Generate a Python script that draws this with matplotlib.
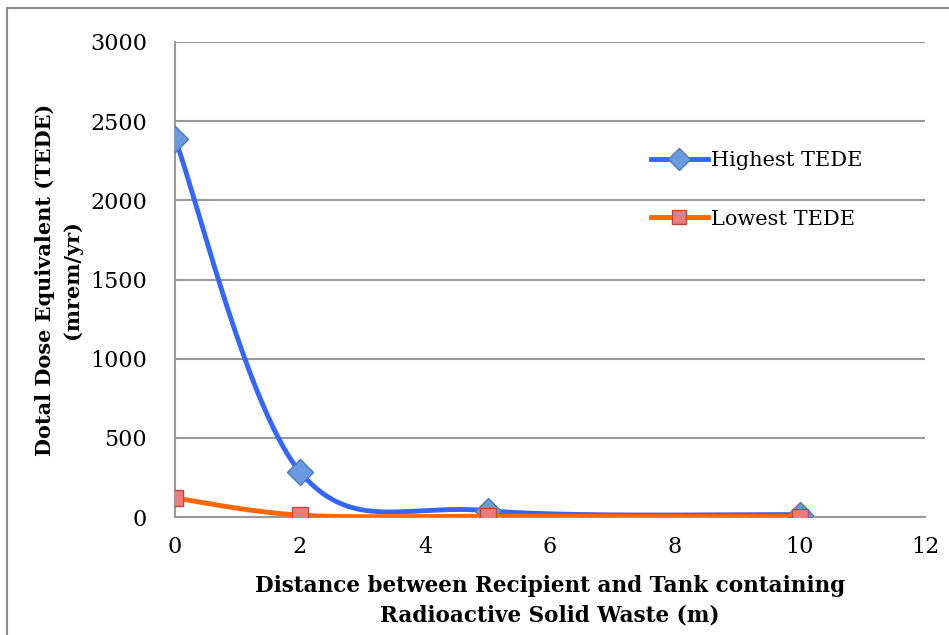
import numpy as np
import matplotlib
matplotlib.use("Agg")
import matplotlib.pyplot as plt
from matplotlib.patches import Rectangle

# data
distance = [0, 2, 5, 10]
highest_tede = [2390, 285, 40, 15]
lowest_tede = [120, 12, 5, 3]

x_ticks = [0, 2, 4, 6, 8, 10, 12]
y_ticks = [0, 500, 1000, 1500, 2000, 2500, 3000]

plt.rcParams["font.family"] = "DejaVu Serif"


def smooth(xs, ys, n=60):
    # Excel style smoothed line (Catmull-Rom as cubic bezier)
    pts = np.column_stack([xs, ys]).astype(float)
    out = []
    for i in range(len(pts) - 1):
        p0 = pts[i - 1] if i > 0 else pts[i]
        p1 = pts[i]
        p2 = pts[i + 1]
        p3 = pts[i + 2] if i + 2 < len(pts) else pts[i + 1]
        c1 = p1 + (p2 - p0) / 6
        c2 = p2 - (p3 - p1) / 6
        t = np.linspace(0, 1, n)[:, None]
        seg = ((1 - t) ** 3) * p1 + 3 * ((1 - t) ** 2) * t * c1 + 3 * (1 - t) * t ** 2 * c2 + t ** 3 * p2
        out.append(seg)
    seg = np.vstack(out)
    return seg[:, 0], seg[:, 1]


fig = plt.figure(figsize=(9.49, 6.35), dpi=100)
ax = fig.add_axes([175 / 949, 1 - 517 / 635, 750 / 949, 475 / 635])

# outer frame
fig.patches.append(Rectangle((7 / 949, -0.1), 1.2, 1 - 8 / 635 + 0.1, transform=fig.transFigure,
                             fill=False, edgecolor="#8c8c8c", linewidth=1.5))

hx, hy = smooth(distance, highest_tede)
lx, ly = smooth(distance, lowest_tede)

blue_marker = dict(marker="D", markerfacecolor="#6a9be0", markeredgecolor="#4a78b8", markeredgewidth=1)
red_marker = dict(marker="s", markerfacecolor="#ec7b7b", markeredgecolor="#c04545", markeredgewidth=1)

ax.plot(hx, hy, color="#3366ff", linewidth=3.5, solid_capstyle="round", zorder=3)
ax.plot(distance, highest_tede, linestyle="none", markersize=13, zorder=4, **blue_marker)
ax.plot(lx, ly, color="#ff6600", linewidth=3.5, solid_capstyle="round", zorder=5)
ax.plot(distance, lowest_tede, linestyle="none", markersize=12, zorder=6, **red_marker)

# legend proxies
h1, = ax.plot([], [], color="#3366ff", linewidth=3.5, markersize=11, **blue_marker)
h2, = ax.plot([], [], color="#ff6600", linewidth=3.5, markersize=10.5, **red_marker)
leg = ax.legend([h1, h2], ["Highest TEDE", "Lowest TEDE"], loc="upper left",
                bbox_to_anchor=(0.61, 0.81), frameon=False, fontsize=15,
                handlelength=2.7, handletextpad=0.15, labelspacing=1.9)

ax.set_xlim(0, 12)
ax.set_ylim(0, 3000)
ax.set_xticks(x_ticks)
ax.set_yticks(y_ticks)
ax.tick_params(axis="both", labelsize=16, length=0, pad=14)
ax.tick_params(axis="y", pad=20)
ax.grid(axis="y", color="#999999", linewidth=1.5)
ax.set_axisbelow(True)
for side in ["top", "right"]:
    ax.spines[side].set_visible(False)
ax.spines["left"].set_color("#999999")
ax.spines["bottom"].set_color("#999999")
ax.spines["left"].set_linewidth(1.5)
ax.spines["bottom"].set_linewidth(1.5)

ax.set_xlabel("Distance between Recipient and Tank containing\nRadioactive Solid Waste (m)",
              fontsize=15.5, fontweight="bold", labelpad=12, linespacing=1.45)
ax.set_ylabel("Dotal Dose Equivalent (TEDE)\n(mrem/yr)", fontsize=15, fontweight="bold",
              labelpad=6, linespacing=1.45)

fig.savefig("out.png", dpi=100)
